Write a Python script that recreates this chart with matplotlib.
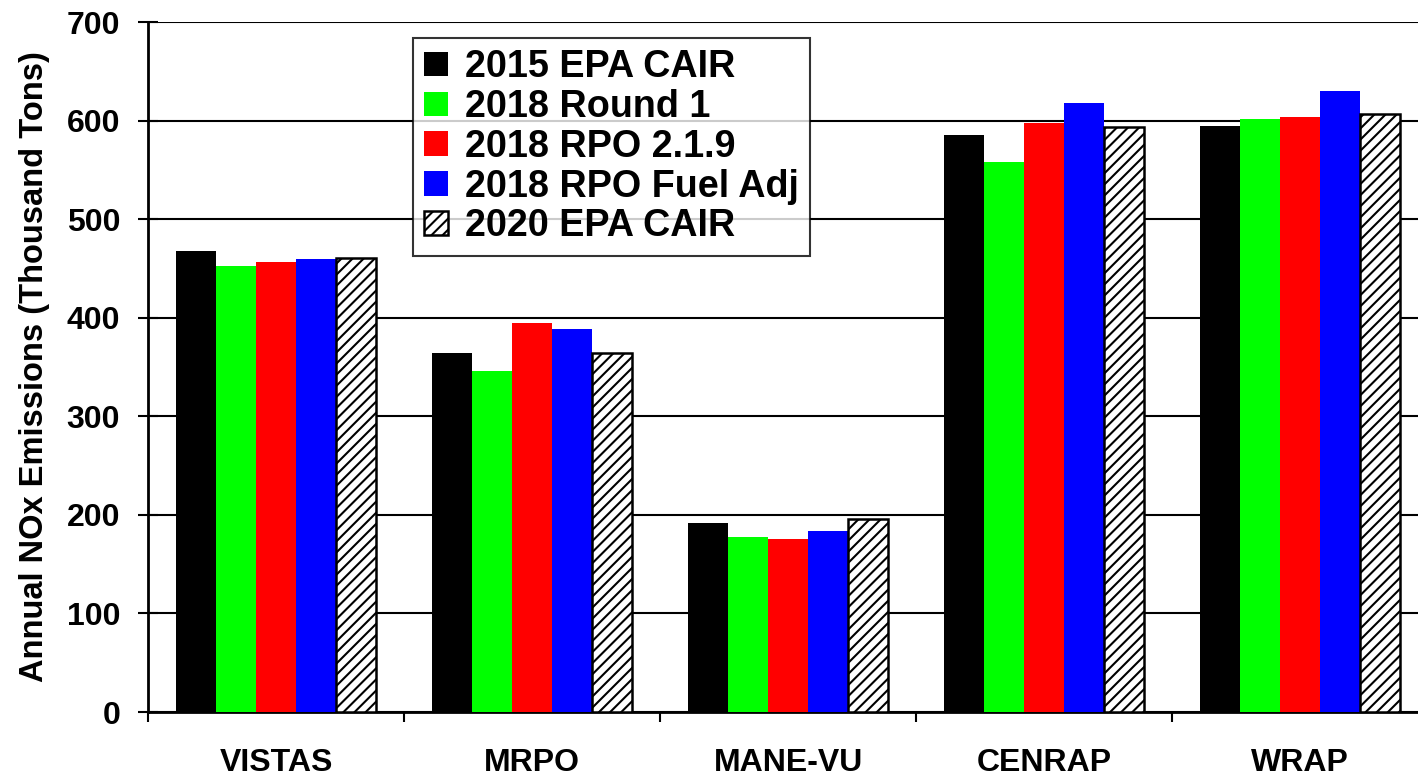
import matplotlib
matplotlib.use("Agg")
import matplotlib.pyplot as plt
import numpy as np

categories = ["VISTAS", "MRPO", "MANE-VU", "CENRAP", "WRAP"]
series_names = ["2015 EPA CAIR", "2018 Round 1", "2018 RPO 2.1.9", "2018 RPO Fuel Adj", "2020 EPA CAIR"]
v2015_cair = [468, 364, 192, 585, 595]
v2018_round1 = [452, 346, 178, 558, 602]
v2018_rpo219 = [457, 395, 176, 598, 604]
v2018_fueladj = [460, 389, 184, 618, 630]
v2020_cair = [461, 364, 196, 593, 607]
yticks = [0, 100, 200, 300, 400, 500, 600, 700]

series = [v2015_cair, v2018_round1, v2018_rpo219, v2018_fueladj, v2020_cair]
colors = ["#000000", "#00ff00", "#ff0000", "#0000ff", "#ffffff"]

plt.rcParams["font.family"] = ["Liberation Sans", "DejaVu Sans"]
plt.rcParams["font.weight"] = "bold"
plt.rcParams["hatch.linewidth"] = 1.5

W, H = 1418, 776
fig = plt.figure(figsize=(W / 100, H / 100), dpi=100)
ax = fig.add_axes([148 / W, (776 - 712) / H, 1280 / W, 690 / H])

x = np.arange(len(categories))
bw = 0.156
for i, (vals, c, name) in enumerate(zip(series, colors, series_names)):
    off = (i - 2) * bw
    if i == 4:
        ax.bar(x + off, vals, bw, color="white", edgecolor="black", hatch="///",
               linewidth=1.8, label=name, zorder=3)
    else:
        ax.bar(x + off, vals, bw, color=c, edgecolor="none", linewidth=0,
               label=name, zorder=3)

ax.set_xlim(-0.5, 4.5)
ax.set_ylim(0, 700)
ax.set_yticks(yticks)
ax.set_yticklabels([str(t) for t in yticks], fontsize=23, fontweight="bold")
ax.yaxis.grid(True, color="black", linewidth=1.5, zorder=0)
ax.set_axisbelow(True)
ax.tick_params(axis="y", direction="inout", length=14, width=1.5, pad=13)

ax.set_xticks(np.arange(-0.5, 4.6, 1.0))
ax.set_xticklabels([])
ax.tick_params(axis="x", which="major", direction="out", length=7, width=1.5)
ax.set_xticks(x, minor=True)
ax.set_xticklabels(categories, minor=True, fontsize=23, fontweight="bold")
ax.tick_params(axis="x", which="minor", length=0, pad=26)

for s in ["top", "right"]:
    ax.spines[s].set_visible(False)
for s in ["left", "bottom"]:
    ax.spines[s].set_linewidth(2)

ax.set_ylabel("Annual NOx Emissions (Thousand Tons)", fontsize=23.5, fontweight="bold", labelpad=12)

leg = ax.legend(loc="upper left", bbox_to_anchor=((413 - 148) / 1280, (712 - 38) / 690),
                borderaxespad=0, frameon=True, fancybox=False, shadow=False,
                handlelength=0.62, handleheight=0.62, handletextpad=0.45,
                labelspacing=0.1, borderpad=0.3, prop={"weight": "bold", "size": 27.2})
leg.get_frame().set_edgecolor("black")
leg.get_frame().set_linewidth(1.5)
leg.set_zorder(5)

fig.savefig("out.png", dpi=100)
